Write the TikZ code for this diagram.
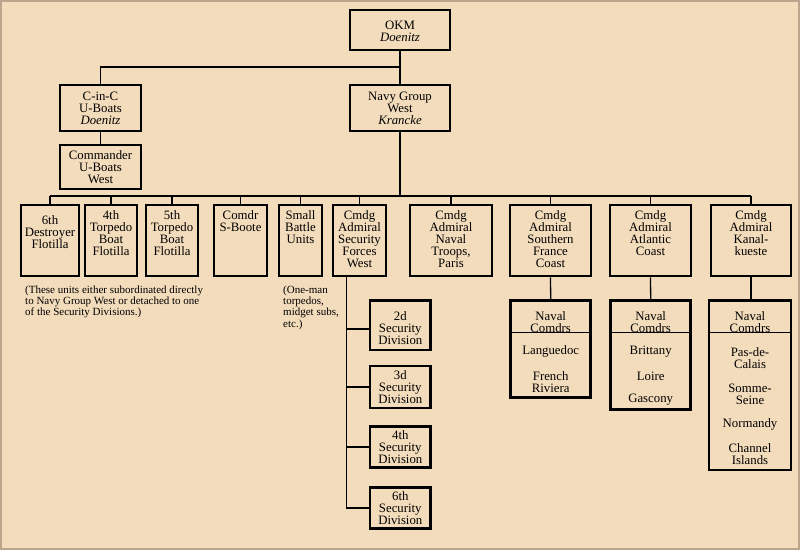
\documentclass[tikz,border=0pt]{standalone}
\usepackage{fontspec}
\setmainfont{Liberation Serif}
\definecolor{paper}{HTML}{F3DCBB}
\definecolor{paperedge}{HTML}{B9A68C}
\begin{document}
\begin{tikzpicture}[x=1pt,y=-1pt,
  unitbox/.style={draw=black, line width=2.6pt, rectangle, inner sep=0pt},
  txt/.style={align=center, inner sep=0pt, font=\fontsize{12.8}{12}\selectfont},
  note/.style={align=left, inner sep=0pt, anchor=north west, font=\fontsize{11}{11.3}\selectfont},
  conn/.style={draw=black, line width=1.3pt},
  divider/.style={draw=black, line width=0.9pt}]
\fill[paper] (0,0) rectangle (800,550);
\draw[paperedge, line width=2pt] (1,1) rectangle (799,549);
\useasboundingbox (0,0) rectangle (800,550);

% top level
\node[unitbox, minimum width=100pt, minimum height=40pt] (okm) at (400,30) {};
\node[txt] (okmt) at ([yshift=-1.5pt]okm.center) {OKM\\\textit{Doenitz}};
\node[unitbox, minimum width=81pt, minimum height=46pt] (cinc) at (100.5,108) {};
\node[txt] (cinct) at (cinc.center) {C-in-C\\U-Boats\\\textit{Doenitz}};
\node[unitbox, minimum width=100pt, minimum height=46pt] (ngw) at (400,108) {};
\node[txt] (ngwt) at (ngw.center) {Navy Group\\West\\\textit{Krancke}};
\node[unitbox, minimum width=81pt, minimum height=44pt] (cubw) at (100.5,167) {};
\node[txt] (cubwt) at (cubw.center) {Commander\\U-Boats\\West};

% row boxes
\node[unitbox, minimum width=58pt, minimum height=71pt] (d6) at (50,240.5) {};
\node[txt, anchor=north] (d6t) at ([yshift=-12pt]d6.north) {6th\\Destroyer\\Flotilla};
\node[unitbox, minimum width=52pt, minimum height=71pt] (t4) at (111,240.5) {};
\node[txt, anchor=north] (t4t) at ([yshift=-6.5pt]t4.north) {4th\\Torpedo\\Boat\\Flotilla};
\node[unitbox, minimum width=52pt, minimum height=71pt] (t5) at (172,240.5) {};
\node[txt, anchor=north] (t5t) at ([yshift=-6.5pt]t5.north) {5th\\Torpedo\\Boat\\Flotilla};
\node[unitbox, minimum width=53pt, minimum height=71pt] (sb) at (240.5,240.5) {};
\node[txt, anchor=north] (sbt) at ([yshift=-6.5pt]sb.north) {Comdr\\S-Boote};
\node[unitbox, minimum width=43pt, minimum height=71pt] (sm) at (300.5,240.5) {};
\node[txt, anchor=north] (smt) at ([yshift=-6.5pt]sm.north) {Small\\Battle\\Units};
\node[unitbox, minimum width=53pt, minimum height=71pt] (sec) at (359.5,240.5) {};
\node[txt, anchor=north] (sect) at ([yshift=-6.5pt]sec.north) {Cmdg\\Admiral\\Security\\Forces\\West};
\node[unitbox, minimum width=82pt, minimum height=71pt] (nt) at (451,240.5) {};
\node[txt, anchor=north] (ntt) at ([yshift=-6.5pt]nt.north) {Cmdg\\Admiral\\Naval\\Troops,\\Paris};
\node[unitbox, minimum width=81pt, minimum height=71pt] (sf) at (550.5,240.5) {};
\node[txt, anchor=north] (sft) at ([yshift=-6.5pt]sf.north) {Cmdg\\Admiral\\Southern\\France\\Coast};
\node[unitbox, minimum width=81pt, minimum height=71pt] (at) at (650.5,240.5) {};
\node[txt, anchor=north] (att) at ([yshift=-6.5pt]at.north) {Cmdg\\Admiral\\Atlantic\\Coast};
\node[unitbox, minimum width=80pt, minimum height=71pt] (kk) at (751,240.5) {};
\node[txt, anchor=north] (kkt) at ([yshift=-6.5pt]kk.north) {Cmdg\\Admiral\\Kanal-\\kueste};

% notes
\node[note] (note1) at (25,285.5) {(These units either subordinated directly\\to Navy Group West or detached to one\\of the Security Divisions.)};
\node[note] (note2) at (283,285.5) {(One-man\\torpedos,\\midget subs,\\etc.)};

% naval commanders
\node[unitbox, minimum width=80pt, minimum height=97pt] (sfn) at (550.7,349.2) {};
\node[txt] (sfnh) at (550.7,322) {Naval\\Comdrs};
\node[txt] (sfn1) at (550.7,351.7) {Languedoc};
\node[txt] (sfn2) at (550.7,382) {French\\Riviera};
\draw[divider] ([yshift=-33.3pt]sfn.north west) -- ([yshift=-33.3pt]sfn.north east);

\node[unitbox, minimum width=80pt, minimum height=108.6pt] (atn) at (650.7,355) {};
\node[txt] (atnh) at (650.7,322) {Naval\\Comdrs};
\node[txt] (atn1) at (650.7,351.7) {Brittany};
\node[txt] (atn2) at (650.7,376) {Loire};
\node[txt] (atn3) at (650.7,400) {Gascony};
\draw[divider] ([yshift=-33.3pt]atn.north west) -- ([yshift=-33.3pt]atn.north east);

\node[unitbox, minimum width=81.7pt, minimum height=169.3pt] (kkn) at (750,385.3) {};
\node[txt] (kknh) at (750,322) {Naval\\Comdrs};
\node[txt] (kkn1) at (750,358) {Pas-de-\\Calais};
\node[txt] (kkn2) at (750,394) {Somme-\\Seine};
\node[txt] (kkn3) at (750,424) {Normandy};
\node[txt] (kkn4) at (750,454) {Channel\\Islands};
\draw[divider] ([yshift=-33.3pt]kkn.north west) -- ([yshift=-33.3pt]kkn.north east);

% security divisions
\node[unitbox, minimum width=60.7pt, minimum height=49.3pt] (sd2) at (400.3,325.3) {};
\node[txt] (sd2t) at (400.3,328) {2d\\Security\\Division};
\node[unitbox, minimum width=60.7pt, minimum height=42.3pt] (sd3) at (400.3,387) {};
\node[txt] (sd3t) at (sd3.center) {3d\\Security\\Division};
\node[unitbox, minimum width=60.7pt, minimum height=40.6pt] (sd4) at (400.3,447) {};
\node[txt] (sd4t) at (sd4.center) {4th\\Security\\Division};
\node[unitbox, minimum width=60.7pt, minimum height=40.6pt] (sd6) at (400.3,508) {};
\node[txt] (sd6t) at (sd6.center) {6th\\Security\\Division};

% connectors
\coordinate (j1) at (400,67);
\coordinate (busL) at (50,196);
\coordinate (busR) at (751,196);
\coordinate (secv) at (346.7,276);
\draw[conn] (okm.south) -- (ngw.north);
\draw[conn] (j1) -| (cinc.north);
\draw[conn] (cinc.south) -- (cubw.north);
\draw[conn] (ngw.south) -- (ngw.south |- busL);
\draw[conn] (busL) -- (busR);
\foreach \b in {d6,t4,t5,sb,sm,sec,nt,sf,at,kk}{
  \draw[conn] (\b.north) -- (\b.north |- busL);
}
\draw[conn] (sf.south) -- (sfn.north);
\draw[conn] (at.south) -- (atn.north);
\draw[conn] (kk.south) -- (kk.south |- kkn.north);
\draw[conn] (secv) |- (sd6.west);
\draw[conn] (secv |- 0,329) -- (sd2.west |- 0,329);
\draw[conn] (secv |- sd3.west) -- (sd3.west);
\draw[conn] (secv |- sd4.west) -- (sd4.west);
\end{tikzpicture}
\end{document}
